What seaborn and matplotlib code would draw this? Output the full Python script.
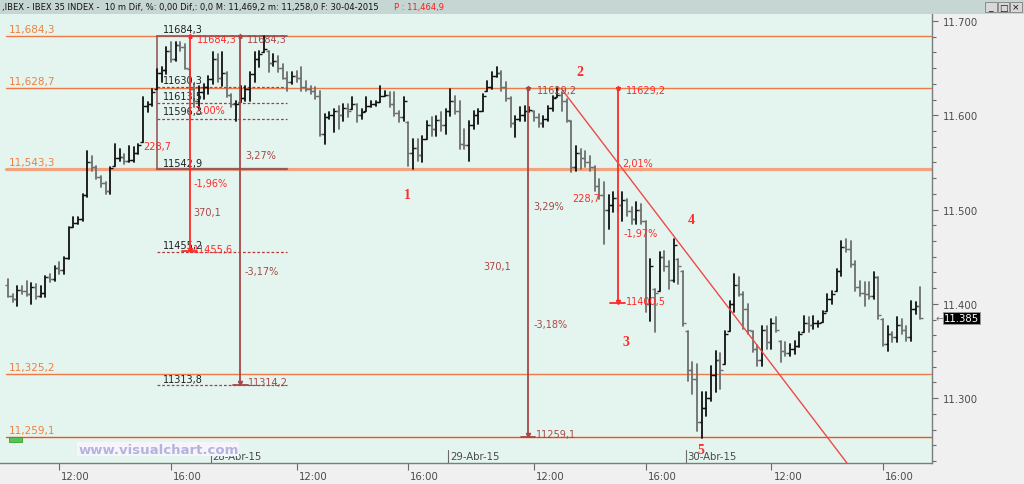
import numpy as np
import pandas as pd
import seaborn as sns
import matplotlib.pyplot as plt
from matplotlib.patches import Rectangle
from matplotlib.ticker import FixedLocator, MultipleLocator, FuncFormatter
import matplotlib.transforms as mtransforms

sns.set_style('white')
plt.rcParams['font.family'] = ['DejaVu Sans']

# IBEX 35, 10 minute bars (index 0 = 27-Abr-15 09:00, 51 bars per session)
first_bar = 7
first_open = 11420
highs = [11426, 11410, 11419, 11419, 11424, 11422, 11421, 11419, 11430, 11432,
         11440, 11444, 11450, 11482, 11492, 11492, 11517, 11562, 11557, 11546,
         11536, 11529, 11545, 11570, 11564, 11559, 11567, 11566, 11570, 11619,
         11614, 11628, 11649, 11651, 11672, 11678, 11678, 11678, 11676, 11649,
         11633, 11631, 11633, 11642, 11667, 11665, 11667, 11646, 11623, 11615,
         11631, 11631, 11646, 11667, 11668, 11684.3, 11668, 11665, 11663, 11654,
         11646, 11646, 11647, 11651, 11636, 11631, 11630, 11626, 11601, 11604,
         11607, 11610, 11612, 11612, 11619, 11612, 11607, 11619, 11615, 11615,
         11631, 11626, 11625, 11625, 11605, 11619, 11593, 11575, 11575, 11578,
         11594, 11598, 11599, 11604, 11607, 11628, 11620, 11615, 11585, 11594,
         11605, 11607, 11623, 11636, 11646, 11651, 11647, 11635, 11619, 11599,
         11609, 11610, 11609, 11605, 11601, 11599, 11610, 11620, 11629.2, 11625,
         11617, 11594, 11567, 11564, 11562, 11557, 11546, 11532, 11529, 11516,
         11519, 11520, 11519, 11511, 11503, 11508, 11506, 11488, 11448, 11416,
         11455, 11456, 11446, 11469, 11448, 11435, 11371, 11338, 11336, 11307,
         11307, 11334, 11350, 11348, 11371, 11403, 11432, 11429, 11413, 11400,
         11371, 11356, 11377, 11377, 11384, 11386, 11361, 11360, 11357, 11361,
         11370, 11387, 11386, 11387, 11382, 11392, 11411, 11414, 11437, 11467,
         11469.2, 11467, 11446, 11424, 11423, 11423, 11434, 11429, 11384, 11377,
         11370, 11386, 11384, 11377, 11403, 11402, 11418]
lows = [11407, 11402, 11398, 11410, 11408, 11400, 11405, 11407, 11407, 11423,
        11424, 11432, 11432, 11448, 11482, 11485, 11488, 11513, 11541, 11532,
        11524, 11517, 11517, 11546, 11552, 11548, 11550, 11550, 11559, 11572,
        11604, 11610, 11628, 11635, 11644, 11656, 11658, 11668, 11649, 11623,
        11609, 11607, 11617, 11623, 11633, 11635, 11631, 11619, 11609, 11594,
        11614, 11615, 11615, 11635, 11651, 11667, 11646, 11652, 11646, 11638,
        11626, 11633, 11635, 11626, 11626, 11623, 11617, 11578, 11570, 11596,
        11582, 11585, 11594, 11598, 11607, 11593, 11596, 11605, 11609, 11610,
        11614, 11620, 11609, 11599, 11593, 11594, 11546, 11543, 11552, 11550,
        11575, 11578, 11578, 11583, 11580, 11599, 11601, 11564, 11564, 11552,
        11585, 11591, 11605, 11626, 11628, 11641, 11626, 11615, 11588, 11577,
        11594, 11594, 11604, 11594, 11588, 11588, 11594, 11605, 11619, 11605,
        11593, 11540, 11541, 11543, 11545, 11541, 11520, 11511, 11464, 11479,
        11497, 11499, 11488, 11493, 11485, 11485, 11485, 11391, 11382, 11370,
        11414, 11435, 11416, 11423, 11421, 11377, 11318, 11304, 11265, 11258,
        11281, 11297, 11307, 11310, 11336, 11371, 11391, 11408, 11373, 11368,
        11349, 11334, 11334, 11352, 11352, 11370, 11338, 11345, 11345, 11347,
        11354, 11370, 11370, 11373, 11376, 11381, 11392, 11400, 11414, 11430,
        11455, 11439, 11414, 11408, 11398, 11405, 11405, 11384, 11355, 11350,
        11360, 11360, 11368, 11361, 11361, 11389, 11384]
closes = [11408, 11405, 11415, 11414, 11410, 11418, 11408, 11412, 11428, 11426,
          11438, 11436, 11449, 11482, 11486, 11490, 11515, 11550, 11545, 11535,
          11528, 11520, 11544, 11555, 11556, 11552, 11553, 11560, 11568, 11610,
          11612, 11625, 11645, 11648, 11668, 11660, 11675, 11672, 11650, 11628,
          11615, 11625, 11630, 11638, 11660, 11640, 11645, 11622, 11612, 11612,
          11618, 11628, 11644, 11660, 11665, 11670, 11655, 11658, 11650, 11640,
          11635, 11642, 11640, 11630, 11628, 11626, 11620, 11580, 11598, 11600,
          11605, 11600, 11608, 11605, 11612, 11600, 11604, 11610, 11612, 11614,
          11620, 11622, 11612, 11602, 11598, 11615, 11560, 11565, 11558, 11575,
          11590, 11585, 11595, 11590, 11605, 11615, 11605, 11570, 11568, 11590,
          11600, 11605, 11620, 11630, 11642, 11645, 11630, 11618, 11592, 11596,
          11600, 11605, 11606, 11598, 11592, 11596, 11608, 11618, 11622, 11615,
          11595, 11545, 11560, 11555, 11550, 11545, 11525, 11515, 11500, 11505,
          11512, 11505, 11510, 11498, 11490, 11500, 11488, 11400, 11440, 11412,
          11450, 11440, 11425, 11462, 11440, 11380, 11330, 11320, 11275, 11290,
          11300, 11325, 11340, 11330, 11368, 11400, 11420, 11410, 11395, 11372,
          11352, 11340, 11372, 11360, 11380, 11372, 11350, 11348, 11352, 11355,
          11368, 11380, 11378, 11380, 11380, 11390, 11405, 11410, 11435, 11460,
          11458, 11442, 11418, 11412, 11410, 11408, 11428, 11388, 11358, 11368,
          11365, 11378, 11372, 11365, 11395, 11398, 11385]

# horizontal support / resistance levels
levels = [11684.3, 11628.7, 11543.3, 11325.2, 11259.1]
level_labels = ['11,684,3', '11,628,7', '11,543,3', '11,325,2', '11,259,1']

# projection box levels (27/28-Abr)
box_levels = [11630.3, 11613.5, 11596.3, 11455.2, 11313.8]
box_labels = ['11630,3', '11613,5', '11596,3', '11455,2', '11313,8']
box_top, box_bottom = 11684.3, 11542.9

time_ticks = [18, 42, 69, 93, 120, 144, 171, 195]
time_labels = ['12:00', '16:00'] * 4
date_ticks = [51, 102, 153]
date_labels = ['28-Abr-15', '29-Abr-15', '30-Abr-15']

last_price = 11385

n = len(highs)
assert n == len(lows) == len(closes)
idx = np.arange(first_bar, first_bar + n)
opens = np.clip(np.r_[first_open, closes[:-1]], lows, highs)
direction = np.where(np.array(closes) >= opens, 'up', 'down')

seg = pd.DataFrame({
    'idx': np.r_[idx, idx],
    'price': np.r_[highs, lows],
    'bar': np.r_[idx, idx],
    'dir': np.r_[direction, direction],
})

BG = '#E4F5F0'
ORANGE = '#F07A45'
RED = '#FF2A2A'
DRED = '#A84848'
GREY_TXT = '#4a4a4a'

fig = plt.figure(figsize=(10.24, 4.85), dpi=100)
fig.patch.set_facecolor('#F0F0F0')
ax = fig.add_axes([0, 21 / 485, 932 / 1024, 449 / 485])
ax.set_facecolor(BG)

sns.lineplot(data=seg, x='idx', y='price', units='bar', estimator=None,
             hue='dir', palette={'up': '#111111', 'down': '#6f6f6f'},
             linewidth=1.3, legend=False, sort=False, ax=ax, zorder=3)
for d, c in [('up', '#111111'), ('down', '#6f6f6f')]:
    m = direction == d
    ax.plot(idx[m], opens[m], ls='none', marker=0, ms=2.2, mew=1.0, color=c, zorder=3)
    ax.plot(idx[m], np.array(closes)[m], ls='none', marker=1, ms=2.2, mew=1.0, color=c, zorder=3)

ax.set_xlim(5.27, 205.5)
ax.set_ylim(11231.3, 11707.4)

# horizontal levels
lw_map = {11543.3: 2.3}
col_map = {11543.3: '#F2A27E', 11259.1: '#FF4E10'}
for v, s in zip(levels, level_labels):
    ax.axhline(v, xmin=0.006, color=col_map.get(v, ORANGE), lw=lw_map.get(v, 1.0), zorder=2)
    ax.annotate(s, (7.2, v), xytext=(0, 1.5), textcoords='offset points',
                color='#F08040', fontsize=7.5, va='bottom', ha='left')

# projection box
bx0, bx1 = 39.0, 66.9
ax.plot([bx0, bx1], [box_top, box_top], color='#9a5050', lw=1.2, zorder=2.5)
ax.plot([bx0, bx1], [box_bottom, box_bottom], color='#9a5a5a', lw=1.6, zorder=2.5)
ax.plot([bx0, bx0], [box_bottom, box_top], color='#9a5a5a', lw=1.2, zorder=2.5)
for v in box_levels:
    ax.plot([bx0, bx1], [v, v], color='#B03A3A', lw=0.9, ls=(0, (2.2, 1.6)), zorder=2.5)
ax.text(40.3, 11691.5, '11684,3', color='#202020', fontsize=7, va='center')
ax.text(40.3, 11549.4, '11542,9', color='#202020', fontsize=7, va='center')
for v, s, yy in zip(box_levels, box_labels, [11637.4, 11620.5, 11604.6, 11462.5, 11320.4]):
    ax.text(40.3, yy, s, color='#202020', fontsize=7, va='center', zorder=4)


def measure(x, top, bottom, color):
    ax.plot([x, x], [bottom, top], color=color, lw=1.3, zorder=4)
    ax.plot([x - 1.6, x + 1.6], [bottom, bottom], color=color, lw=1.3, zorder=4)
    ax.plot([x], [bottom + 1.5], marker='v', ms=3, color=color, zorder=4)
    ax.plot([x], [top], marker='*', ms=3.5, color=color, zorder=4)


measure(46.0, 11684.3, 11455.6, RED)
measure(56.9, 11684.3, 11314.2, DRED)
measure(118.7, 11629.2, 11259.1, DRED)
measure(138.0, 11629.2, 11400.5, RED)

notes = [
    (47.6, 11681.4, '11684,3', RED), (46.9, 11605.6, '2,00%', RED),
    (35.98, 11567.5, '228,7', RED), (46.9, 11528.0, '-1,96%', RED),
    (46.7, 11458.2, '11455,6', RED),
    (58.3, 11681.4, '11684,3', DRED), (57.9, 11558.4, '3,27%', DRED),
    (46.9, 11497.5, '370,1', DRED), (57.9, 11435.0, '-3,17%', DRED),
    (58.5, 11317.0, '11314,2', DRED),
    (120.6, 11626.8, '11629,2', DRED), (119.8, 11504.0, '3,29%', DRED),
    (109.0, 11440.0, '370,1', DRED), (119.8, 11379.0, '-3,18%', DRED),
    (120.4, 11262.0, '11259,1', DRED),
    (139.7, 11626.8, '11629,2', RED), (139.0, 11549.7, '2,01%', RED),
    (128.2, 11512.8, '228,7', RED), (139.2, 11474.7, '-1,97%', RED),
    (139.7, 11402.6, '11400,5', RED),
]
for x, y, s, c in notes:
    ax.text(x, y, s, color=c, fontsize=7, va='center', ha='left', zorder=5)

# trend line from point 2
ax.plot([125.9, 190.0], [11628, 11213.4], color='#F04848', lw=1.0, zorder=4)

waves = [(92.8, 11516.5, '1'), (129.8, 11646.7, '2'), (139.7, 11360, '3'),
         (153.7, 11490, '4'), (155.9, 11246, '5')]
for x, y, s in waves:
    ax.text(x, y, s, color=RED, fontsize=10, fontweight='bold',
            family=['Liberation Serif', 'DejaVu Serif'], ha='center', va='center', zorder=5)

# watermark + marker
ax.text(0.170, 0.031, 'www.visualchart.com', transform=ax.transAxes, color='#B3B3DD',
        fontsize=9.5, fontweight='bold', ha='center', va='center', zorder=6,
        bbox=dict(facecolor='#F5F5FB', edgecolor='none', pad=0.6))
ax.add_patch(Rectangle((0.0097, 0.046), 0.014, 0.012, transform=ax.transAxes,
                       facecolor='#52C552', edgecolor='#3a9a3a', lw=0.6, zorder=6))

# axes styling
for s in ['top', 'left']:
    ax.spines[s].set_visible(False)
for s in ['bottom', 'right']:
    ax.spines[s].set_color('#7c7c7c')
    ax.spines[s].set_linewidth(1.0)

ax.yaxis.tick_right()
ax.yaxis.set_major_locator(FixedLocator([11300, 11400, 11500, 11600, 11700]))
ax.yaxis.set_minor_locator(MultipleLocator(100 / 6))
ax.yaxis.set_major_formatter(FuncFormatter(lambda v, p: f'{v / 1000:.3f}'))
ax.tick_params(axis='y', which='major', right=True, length=4.5, width=0.8,
               color='#6a6a6a', labelsize=7.3, labelcolor=GREY_TXT, pad=3)
ax.tick_params(axis='y', which='minor', right=True, length=2.8, width=0.8, color='#6a6a6a')

ax.set_xticks(time_ticks)
ax.set_xticklabels(time_labels)
ax.tick_params(axis='x', bottom=True, length=5, width=0.8, color='#6a6a6a',
               labelsize=7.3, labelcolor=GREY_TXT, pad=1)
shift = mtransforms.ScaledTranslation(2 / 100, 0, fig.dpi_scale_trans)
for t in ax.get_xticklabels():
    t.set_ha('left')
    t.set_transform(t.get_transform() + shift)
ax.set_xlabel('')
ax.set_ylabel('')

for x, s in zip(date_ticks, date_labels):
    ax.plot([x - 0.45, x - 0.45], [11231.3, 11245], color='#6a6a6a', lw=0.8, zorder=5)
    ax.text(x - 0.1, 11239, s, color=GREY_TXT, fontsize=7.3, va='center', ha='left', zorder=5)

# last price box
ax.text(1.0035, last_price, '\u2190', transform=ax.get_yaxis_transform(),
        color='#777777', fontsize=7, va='center', ha='left', clip_on=False)
ax.text(1.0125, last_price, f'{last_price / 1000:.3f}', transform=ax.get_yaxis_transform(),
        color='white', fontsize=7.3, va='center', ha='left', clip_on=False, zorder=7,
        bbox=dict(facecolor='black', edgecolor='#999999', pad=0.8, lw=0.6))

# header bar
fig.add_artist(Rectangle((0, 1 - 15 / 485), 1, 15 / 485, transform=fig.transFigure,
                         facecolor='#C6D6D2', edgecolor='none'))
fig.text(2 / 1024, 1 - 7.5 / 485,
         ',IBEX - IBEX 35 INDEX -  10 m Dif, %: 0,00 Dif,: 0,0 M: 11,469,2 m: 11,258,0 F: 30-04-2015',
         fontsize=6.0, color='#111111', va='center', ha='left')
fig.text(394 / 1024, 1 - 7.5 / 485, 'P : 11,464,9', fontsize=6.0, color='#FF1A1A',
         va='center', ha='left')
for k, sym in enumerate(['_', '\u25a1', '\u00d7']):
    x0 = (985 + 12.5 * k) / 1024
    fig.add_artist(Rectangle((x0, 1 - 13 / 485), 11.5 / 1024, 10 / 485, transform=fig.transFigure,
                             facecolor='#D8D8D8', edgecolor='#808080', lw=0.6))
    fig.text(x0 + 5.75 / 1024, 1 - 8 / 485, sym, fontsize=6.5, color='#111111',
             ha='center', va='center')

fig.savefig('out.png', dpi=100, facecolor=fig.get_facecolor())
